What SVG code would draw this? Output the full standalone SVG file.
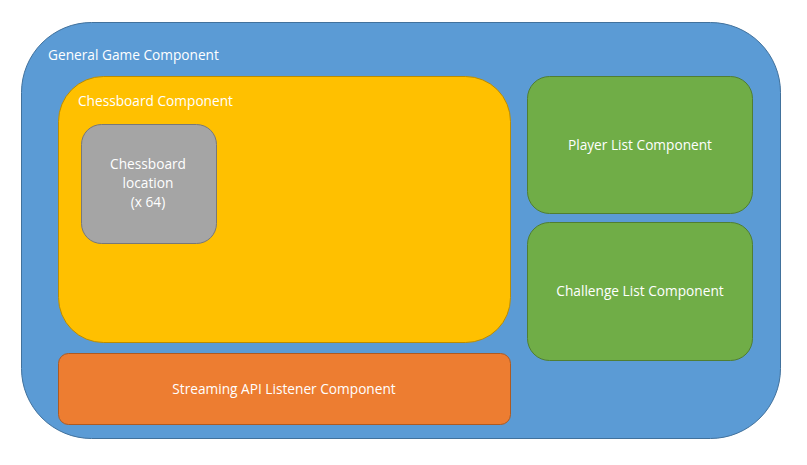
<svg xmlns="http://www.w3.org/2000/svg" width="807" height="465" viewBox="0 0 807 465">
<style>
text{font-family:"Open Sans","Liberation Sans",sans-serif;font-size:13.7px;fill:#ffffff}
.c{text-anchor:middle}
.box{stroke-width:1}
</style>
<rect width="807" height="465" fill="#ffffff"/>
<g id="general">
<rect x="21.5" y="22.5" width="759" height="416" rx="70" ry="70" fill="#5b9bd5" stroke="#41719c"/>
<text x="48" y="60">General Game Component</text>
</g>
<g id="chessboard">
<rect x="58.5" y="76.5" width="452" height="266" rx="45" ry="45" fill="#ffc000" stroke="#bc8c00"/>
<text x="78" y="106">Chessboard Component</text>
</g>
<g id="location">
<rect x="81.5" y="124.5" width="135" height="119" rx="20" ry="20" fill="#a5a5a5" stroke="#787878"/>
<text class="c" x="148" y="169">Chessboard</text>
<text class="c" x="148" y="188">location</text>
<text class="c" x="148" y="207">(x 64)</text>
</g>
<g id="player">
<rect x="527.5" y="76.5" width="225" height="137" rx="22" ry="22" fill="#70ad47" stroke="#507e32"/>
<text class="c" x="640" y="150">Player List Component</text>
</g>
<g id="challenge">
<rect x="527.5" y="222.5" width="225" height="138" rx="22" ry="22" fill="#70ad47" stroke="#507e32"/>
<text class="c" x="640" y="296">Challenge List Component</text>
</g>
<g id="streaming">
<rect x="58.5" y="353.5" width="452" height="71" rx="10" ry="10" fill="#ed7d31" stroke="#ae5a21"/>
<text class="c" x="284" y="394">Streaming API Listener Component</text>
</g>
<g id="connectors"></g>
</svg>
